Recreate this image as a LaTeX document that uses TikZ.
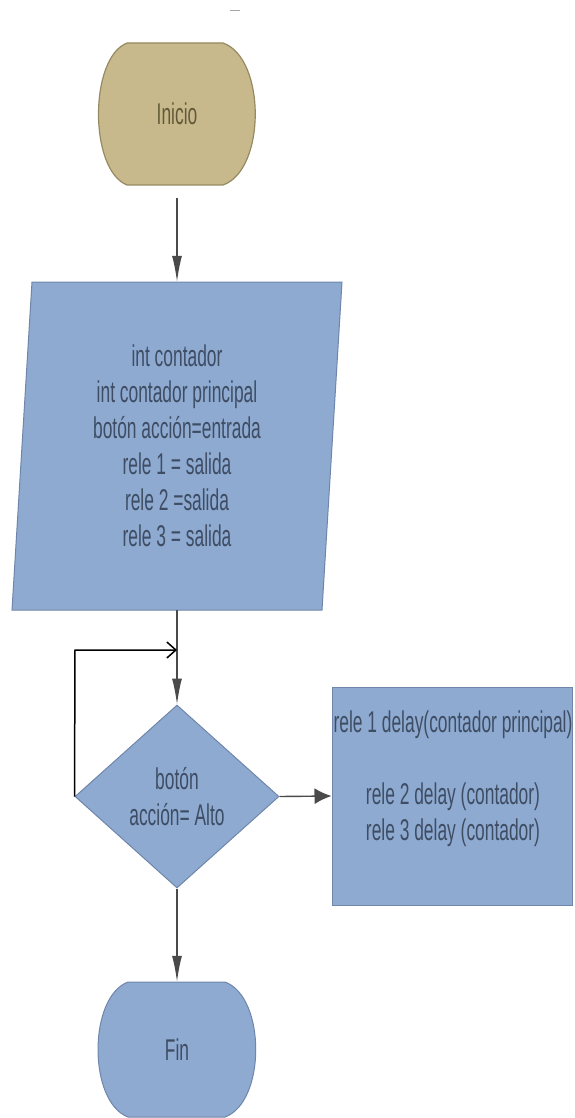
\documentclass[tikz,border=0pt]{standalone}
\usepackage{fontspec}
\setmainfont{Liberation Sans}[FakeStretch=0.58]
\usetikzlibrary{arrows.meta,shapes.geometric}
\definecolor{tanfill}{HTML}{C8B98C}
\definecolor{tanline}{HTML}{968A62}
\definecolor{tantext}{HTML}{635A3A}
\definecolor{bluefill}{HTML}{8EAAD1}
\definecolor{blueline}{HTML}{6F86AA}
\definecolor{bluetext}{HTML}{3E4D63}
\definecolor{arrowgray}{HTML}{4A4A4A}
\tikzset{
  lbl/.style={font=\fontsize{30}{36}\selectfont, text=bluetext, align=center, inner sep=0pt},
  arr/.style={draw=arrowgray, line width=1.4pt, -{Latex[length=26pt,width=10pt]}},
  harr/.style={draw=arrowgray, line width=1.4pt, -{Latex[length=17pt,width=16pt]}},
  loopline/.style={draw=black, line width=1.5pt},
  bluebox/.style={fill=bluefill, draw=blueline, line width=1pt},
  tanbox/.style={fill=tanfill, draw=tanline, line width=1.2pt},
}
\begin{document}
\begin{tikzpicture}[x=1pt,y=-1pt]
\useasboundingbox[fill=white] (0,0) rectangle (574,1118);

% small mark at the top
\draw[gray!70, line width=1pt] (230,11) -- (240,11);

% start terminator
\path[tanbox] (127,43) -- (223,43) .. controls (266,58) and (266,170) .. (223,185)
  -- (127,185) .. controls (89,170) and (89,58) .. (127,43) -- cycle;
\node[lbl, text=tantext, minimum width=155pt, minimum height=142pt] (ini) at (177,114) {Inicio};

% declarations (parallelogram)
\path[bluebox] (32,282) -- (342,282) -- (322,610) -- (12,610) -- cycle;
\node[lbl, minimum width=330pt, minimum height=328pt] (par) at (177,446)
  {int contador\\int contador principal\\botón acción=entrada\\rele 1 = salida\\rele 2 =salida\\rele 3 = salida};

% decision
\node[lbl, shape=diamond, bluebox, minimum width=204pt, minimum height=183pt] (dia) at (177,796.5)
  {botón\\acción= Alto};

% relay actions
\node[bluebox, minimum width=240pt, minimum height=218pt, inner sep=0pt] (rel) at (452,796) {};
\node[lbl] (relt) at (453,779)
  {rele 1 delay(contador principal)\\[36pt]rele 2 delay (contador)\\rele 3 delay (contador)};

% end terminator
\path[bluebox] (128,982) -- (225,982) .. controls (266,997) and (266,1102) .. (225,1117)
  -- (128,1117) .. controls (88,1102) and (88,997) .. (128,982) -- cycle;
\node[lbl, minimum width=153pt, minimum height=135pt] (fin) at (177,1049.5) {Fin};

% connectors
\draw[arr, shorten <=13pt] (ini.south) -- (par.north);
\draw[arr] (par.south) -- (dia.north);
\draw[harr] (dia.east) -- (rel.west);
\draw[arr] (dia.south) -- (fin.north);
\coordinate (lp1) at (75,650);
\coordinate (lp2) at (177,650);
\draw[loopline, -{Straight Barb[length=9pt,width=16pt,line width=1.5pt]}]
  (dia.west) -- (lp1) -- (lp2);
\end{tikzpicture}
\end{document}
